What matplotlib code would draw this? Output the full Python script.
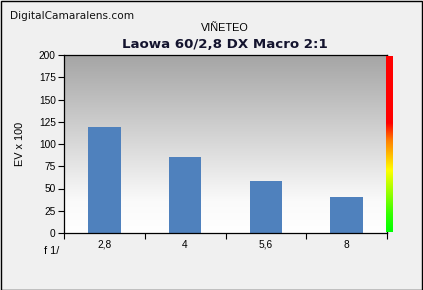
import matplotlib
matplotlib.use("Agg")
import matplotlib.pyplot as plt
import numpy as np
from matplotlib.colors import LinearSegmentedColormap
from matplotlib.patches import Rectangle

categories = ["2,8", "4", "5,6", "8"]
values = [119, 85, 58, 40]
yticks = [0, 25, 50, 75, 100, 125, 150, 175, 200]

W, H = 423, 290
fig = plt.figure(figsize=(W/100, H/100), dpi=100)
fig.patch.set_facecolor("#f0f0f0")

def px(x0, y0, x1, y1):
    return [x0/W, 1 - y1/H, (x1-x0)/W, (y1-y0)/H]

ax = fig.add_axes(px(64, 55, 387, 233))
ax.set_xlim(-0.5, len(categories) - 0.5)
ax.set_ylim(0, 200)

# background gradient
grad = np.linspace(0, 1, 256).reshape(-1, 1)
bg_cmap = LinearSegmentedColormap.from_list("bg", [(0, "#ffffff"), (0.18, "#fafafa"), (1, "#a5a5a5")])
ax.imshow(grad, aspect="auto", cmap=bg_cmap, origin="lower",
          extent=[-0.5, len(categories) - 0.5, 0, 200], zorder=0)

x = np.arange(len(categories))
ax.bar(x, values, width=0.4, color="#4f81bd", zorder=2)

ax.set_yticks(yticks)
ax.set_yticklabels([str(v) for v in yticks], fontsize=7.3, family="Liberation Sans")
ax.set_xticks(np.arange(-0.5, len(categories)), minor=False)
ax.set_xticklabels([])
ax.set_xticks(x, minor=True)
ax.set_xticklabels(categories, minor=True, fontsize=7.3, family="Liberation Sans")
ax.tick_params(axis="x", which="major", length=4, width=0.8, direction="out")
ax.tick_params(axis="x", which="minor", length=0, pad=5)
ax.tick_params(axis="y", length=4, width=0.8, direction="out", pad=2)
for s in ax.spines.values():
    s.set_linewidth(0.9)
    s.set_color("black")
ax.set_ylabel("EV x 100", fontsize=7.8, family="Liberation Sans", labelpad=10)

# colour bar
cax = fig.add_axes(px(386, 56, 393, 232))
cb_cmap = LinearSegmentedColormap.from_list("cb", [(0, "#00ff00"), (0.1, "#33ff00"),
                                                   (0.35, "#ffff00"), (0.52, "#ff8000"),
                                                   (0.62, "#ff0000"), (1, "#ff0000")])
cax.imshow(grad, aspect="auto", cmap=cb_cmap, origin="lower", extent=[0, 1, 0, 1])
cax.set_axis_off()

fig.text(10/W, 1 - 16/H, "DigitalCamaralens.com", fontsize=7.6, family="DejaVu Sans",
         va="center", ha="left", color="#111111")
fig.text(225/W, 1 - 28/H, "VIÑETEO", fontsize=7.8, family="Liberation Sans",
         va="center", ha="center")
fig.text(225/W, 1 - 45/H, "Laowa 60/2,8 DX Macro 2:1", fontsize=9.6, family="DejaVu Sans",
         weight="bold", va="center", ha="center", color="#14142e")
fig.text(52/W, 1 - 251/H, "f 1/", fontsize=7.8, family="Liberation Sans",
         va="center", ha="center")

fig.add_artist(Rectangle((0.5/W, 0.5/H), (W-1.5)/W, (H-1.5)/H, transform=fig.transFigure,
                         fill=False, edgecolor="black", linewidth=1))

fig.savefig("out.png", dpi=100, facecolor=fig.get_facecolor())
